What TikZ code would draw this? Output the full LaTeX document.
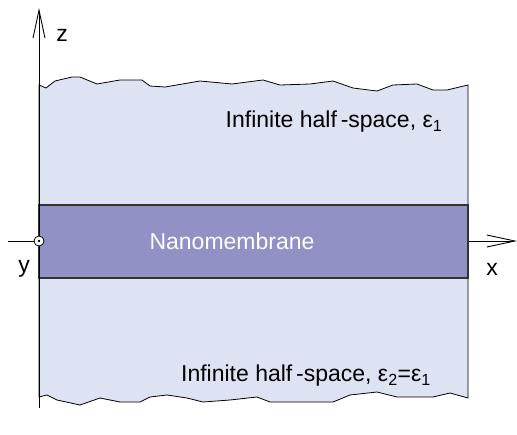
\documentclass[tikz,border=0pt]{standalone}
\usepackage{fontspec}
\setmainfont{Liberation Sans}
\usetikzlibrary{arrows.meta}
\definecolor{halfspace}{RGB}{221,227,242}
\definecolor{membrane}{RGB}{145,145,198}
\tikzset{
  axis/.style={line width=0.9pt,-{Straight Barb[length=28pt,width=12pt,line width=0.9pt]}},
  rim/.style={line width=0.8pt},
  lab/.style={font=\fontsize{23}{27}\selectfont}
}
\begin{document}
\begin{tikzpicture}[x=1pt,y=-1pt]
  \useasboundingbox (0,0) rectangle (517,434);
  % Achsenpunkte
  \coordinate (O)  at (39,241);
  \coordinate (xl) at (8,241);
  \coordinate (xr) at (517,241);
  \coordinate (zb) at (39,408);
  \coordinate (zt) at (39,8);

  % x-Achse
  \draw[axis] (xl) -- (xr);

  % obere Halbraum
  \draw[rim,fill=halfspace] (39,205) -- (39,85) -- (46,88) -- (55,81) -- (72,77) -- (80,77)
    -- (97,84) -- (120,80) -- (142,80) -- (150,86) -- (165,87) -- (200,81) -- (232,84)
    -- (255,81) -- (263,80) -- (280,85) -- (310,84) -- (333,81) -- (353,88) -- (377,91)
    -- (393,85) -- (417,84) -- (433,90) -- (447,90) -- (468,85) -- (468,205);
  % untere Halbraum
  \draw[rim,fill=halfspace] (39,278) -- (39,397) -- (47,395) -- (57,400) -- (80,405)
    -- (100,398) -- (120,402) -- (140,402) -- (150,397) -- (167,395) -- (187,398)
    -- (203,402) -- (230,400) -- (257,397) -- (270,402) -- (333,402) -- (350,395)
    -- (377,392) -- (397,397) -- (433,397) -- (450,393) -- (468,398) -- (468,278);
  % Membran
  \draw[line width=1.1pt,draw=black!80,fill=membrane] (39,205) rectangle (468,278);

  % z-Achse
  \draw[axis] (zb) -- (zt);
  \draw[line width=0.8pt,fill=white] (O) circle (5);
  \fill (O) circle (1.4);

  % Beschriftungen
  \node[lab] (z) at (62,35) {z};
  \node[lab] (y) at (24,269) {y};
  \node[lab] (x) at (492,269) {x};
  \node[lab,white] (nm) at (232,241) {Nanomembrane};
  \node[lab] (hs1) at (334,122) {Infinite half\,-space, ε\textsubscript{1}};
  \node[lab] (hs2) at (306,376) {Infinite half\,-space, ε\textsubscript{2}=ε\textsubscript{1}};
\end{tikzpicture}
\end{document}
